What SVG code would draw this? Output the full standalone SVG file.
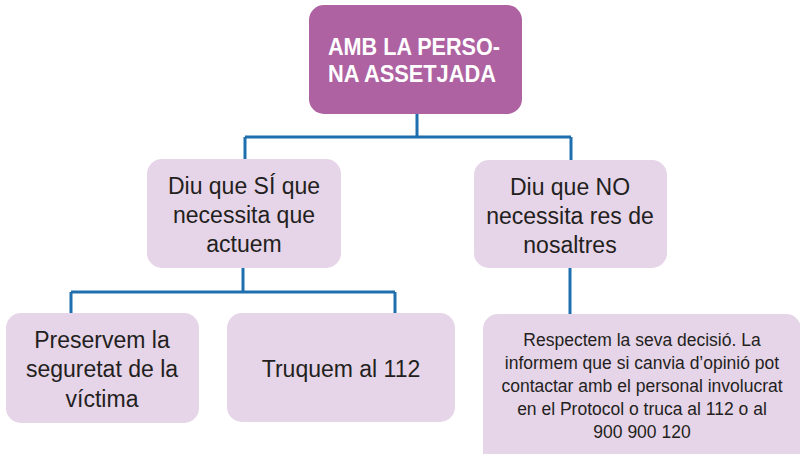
<svg xmlns="http://www.w3.org/2000/svg" width="800" height="454" viewBox="0 0 800 454">
<style>
.box{fill:#e6d4e8}
.top{fill:#ae62a2}
.t{font-family:"Liberation Sans",Arial,sans-serif;fill:#231f20;text-anchor:middle}
.m{font-size:23px}
.s{font-size:17.5px}
.h{font-family:"Liberation Sans",Arial,sans-serif;font-weight:bold;fill:#ffffff;font-size:23px}
.c{fill:none;stroke:#1f6fae;stroke-width:3}
</style>
<rect width="800" height="454" fill="#ffffff"/>
<g id="connectors">
<path class="c" d="M417 114V137M245 137H571M245 137V160M571 137V160"/>
<path class="c" d="M243 268V292M71 292H395M71 292V313M395 292V313"/>
<path class="c" d="M570 268V314"/>
</g>
<g id="root">
<rect class="top" x="309" y="5" width="213" height="109" rx="15"/>
<text class="h" x="328" y="55" textLength="172" lengthAdjust="spacingAndGlyphs">AMB LA PERSO-</text>
<text class="h" x="328" y="82" textLength="168" lengthAdjust="spacingAndGlyphs">NA ASSETJADA</text>
</g>
<g id="si">
<rect class="box" x="147" y="159" width="194" height="109" rx="15"/>
<text class="t m" x="244" y="194">Diu que SÍ que</text>
<text class="t m" x="244" y="223">necessita que</text>
<text class="t m" x="244" y="252">actuem</text>
</g>
<g id="no">
<rect class="box" x="474" y="160" width="193" height="108" rx="15"/>
<text class="t m" x="570" y="195">Diu que NO</text>
<text class="t m" x="570" y="224">necessita res de</text>
<text class="t m" x="570" y="253">nosaltres</text>
</g>
<g id="preservem">
<rect class="box" x="6" y="313" width="193" height="110" rx="15"/>
<text class="t m" x="102" y="348">Preservem la</text>
<text class="t m" x="102" y="377">seguretat de la</text>
<text class="t m" x="102" y="407">víctima</text>
</g>
<g id="truquem">
<rect class="box" x="227" y="313" width="228" height="109" rx="15"/>
<text class="t m" x="341" y="377">Truquem al 112</text>
</g>
<g id="respectem">
<rect class="box" x="483" y="314" width="318" height="160" rx="15"/>
<text class="t s" x="642" y="346">Respectem la seva decisió. La</text>
<text class="t s" x="642" y="369">informem que si canvia d’opinió pot</text>
<text class="t s" x="642" y="392">contactar amb el personal involucrat</text>
<text class="t s" x="642" y="415">en el Protocol o truca al 112 o al</text>
<text class="t s" x="642" y="438">900 900 120</text>
</g>
</svg>
